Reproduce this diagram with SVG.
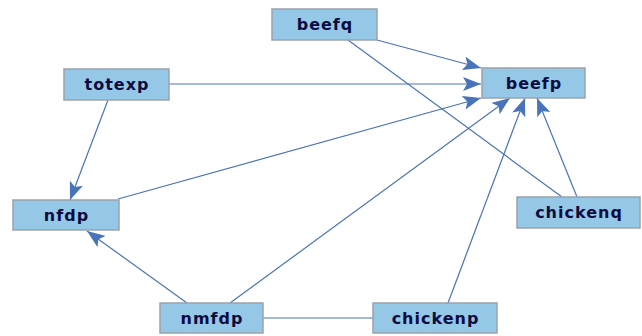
<svg xmlns="http://www.w3.org/2000/svg" width="642" height="336" viewBox="0 0 642 336">
<defs>
<style>
.n rect{fill:#95c7e6;stroke:#9aa3ab;stroke-width:1.5}
.n text{font-family:"DejaVu Sans","Liberation Sans",sans-serif;font-weight:bold;font-size:16px;letter-spacing:1px;fill:#0c0c40;text-anchor:middle;dominant-baseline:central}
.e line{stroke:#4a74b8;stroke-width:1.2;fill:none}
.a{marker-end:url(#arr)}
</style>
<marker id="arr" markerUnits="userSpaceOnUse" markerWidth="18" markerHeight="14" viewBox="0 0 18 14" refX="18" refY="7" orient="auto">
<path d="M0,0 L18,7 L0,14 L4,7 Z" fill="#4a74b8"/>
</marker>
</defs>
<rect width="642" height="336" fill="#fff"/>
<g id="edges" class="e">
<line class="a" x1="377" y1="40" x2="481" y2="68"/>
<line x1="348" y1="40" x2="562" y2="197"/>
<line class="a" x1="169" y1="84" x2="481" y2="84"/>
<line class="a" x1="118" y1="199" x2="481" y2="98"/>
<line class="a" x1="230" y1="303" x2="510" y2="98"/>
<line class="a" x1="448" y1="303" x2="525" y2="98"/>
<line class="a" x1="577" y1="197" x2="537" y2="98"/>
<line class="a" x1="108" y1="100" x2="70" y2="200"/>
<line class="a" x1="187" y1="303" x2="87" y2="231"/>
<line x1="263" y1="318" x2="373" y2="318"/>
</g>
<g id="beefq" class="n"><rect x="272" y="9" width="105" height="31"/><text x="325" y="24.5">beefq</text></g>
<g id="beefp" class="n"><rect x="482" y="68" width="103" height="30"/><text x="534" y="83">beefp</text></g>
<g id="totexp" class="n"><rect x="64" y="69" width="105" height="31"/><text x="117" y="84.5">totexp</text></g>
<g id="nfdp" class="n"><rect x="13" y="200" width="106" height="30"/><text x="66.5" y="215">nfdp</text></g>
<g id="chickenq" class="n"><rect x="517" y="197" width="123" height="31"/><text x="579" y="212.5">chickenq</text></g>
<g id="nmfdp" class="n"><rect x="160" y="303" width="103" height="30"/><text x="212" y="318">nmfdp</text></g>
<g id="chickenp" class="n"><rect x="373" y="303" width="124" height="30"/><text x="435.5" y="318">chickenp</text></g>
</svg>
